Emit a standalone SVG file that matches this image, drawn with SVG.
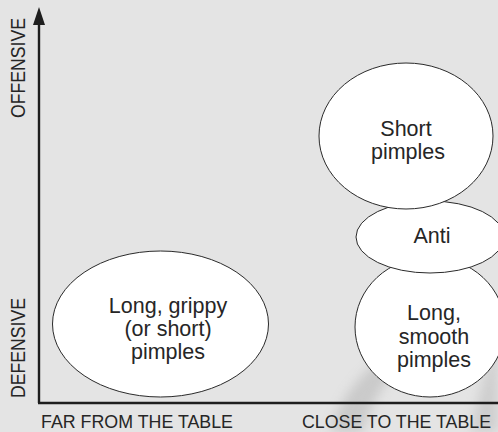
<svg xmlns="http://www.w3.org/2000/svg" width="498" height="432" viewBox="0 0 498 432">
<style>
.bg{fill:#e4e4e4}
.node ellipse{fill:#ffffff;stroke:#2a2a2a;stroke-width:1}
.lbl{font-family:"Liberation Sans",Arial,sans-serif;font-size:21.5px;fill:#262626;text-anchor:middle}
.ax{font-family:"Liberation Sans",Arial,sans-serif;font-size:20px;fill:#262626}
.axb{font-family:"Liberation Sans",Arial,sans-serif;font-size:18.2px;fill:#262626}
.axis{stroke:#1e1e1e;stroke-width:2.4;fill:none}
</style>
<defs>
<filter id="blur" x="-50%" y="-50%" width="200%" height="200%"><feGaussianBlur stdDeviation="6"/></filter>
</defs>
<rect class="bg" x="0" y="0" width="498" height="432"/>
<g id="watermark" filter="url(#blur)" opacity="0.35">
<path d="M330 432 C340 400 360 370 395 350 L405 360 C385 380 370 405 362 432 Z" fill="#9a9a9a"/>
<path d="M470 432 C478 400 488 360 498 330 L498 432 Z" fill="#a5a5a5"/>
</g>
<g id="connectors">
<path class="axis" d="M39 403 L39 22"/>
<path class="axis" d="M38 403 L498 403"/>
<polygon points="39,7 33,25 45,25" fill="#1e1e1e"/>
</g>
<g id="axis-labels">
<text class="ax" transform="translate(25,68) rotate(-90)" text-anchor="middle" textLength="100" lengthAdjust="spacingAndGlyphs">OFFENSIVE</text>
<text class="ax" transform="translate(25,348) rotate(-90)" text-anchor="middle" textLength="100" lengthAdjust="spacingAndGlyphs">DEFENSIVE</text>
<text class="axb" x="41" y="428" textLength="192" lengthAdjust="spacingAndGlyphs">FAR FROM THE TABLE</text>
<text class="axb" x="302" y="428" textLength="189" lengthAdjust="spacingAndGlyphs">CLOSE TO THE TABLE</text>
</g>
<g id="node-long-grippy" class="node">
<ellipse cx="160.5" cy="324" rx="108" ry="73"/>
<text class="lbl" x="168" y="313">Long, grippy</text>
<text class="lbl" x="168" y="336">(or short)</text>
<text class="lbl" x="168" y="359">pimples</text>
</g>
<g id="node-long-smooth" class="node">
<ellipse cx="430" cy="327" rx="75" ry="70"/>
<text class="lbl" x="434" y="320">Long,</text>
<text class="lbl" x="434" y="344">smooth</text>
<text class="lbl" x="434" y="367">pimples</text>
</g>
<g id="node-anti" class="node">
<ellipse cx="430" cy="237" rx="74" ry="36"/>
<text class="lbl" x="432" y="243">Anti</text>
</g>
<g id="node-short" class="node">
<ellipse cx="406" cy="136" rx="87" ry="73"/>
<text class="lbl" x="406" y="136">Short</text>
<text class="lbl" x="408" y="159">pimples</text>
</g>
</svg>
